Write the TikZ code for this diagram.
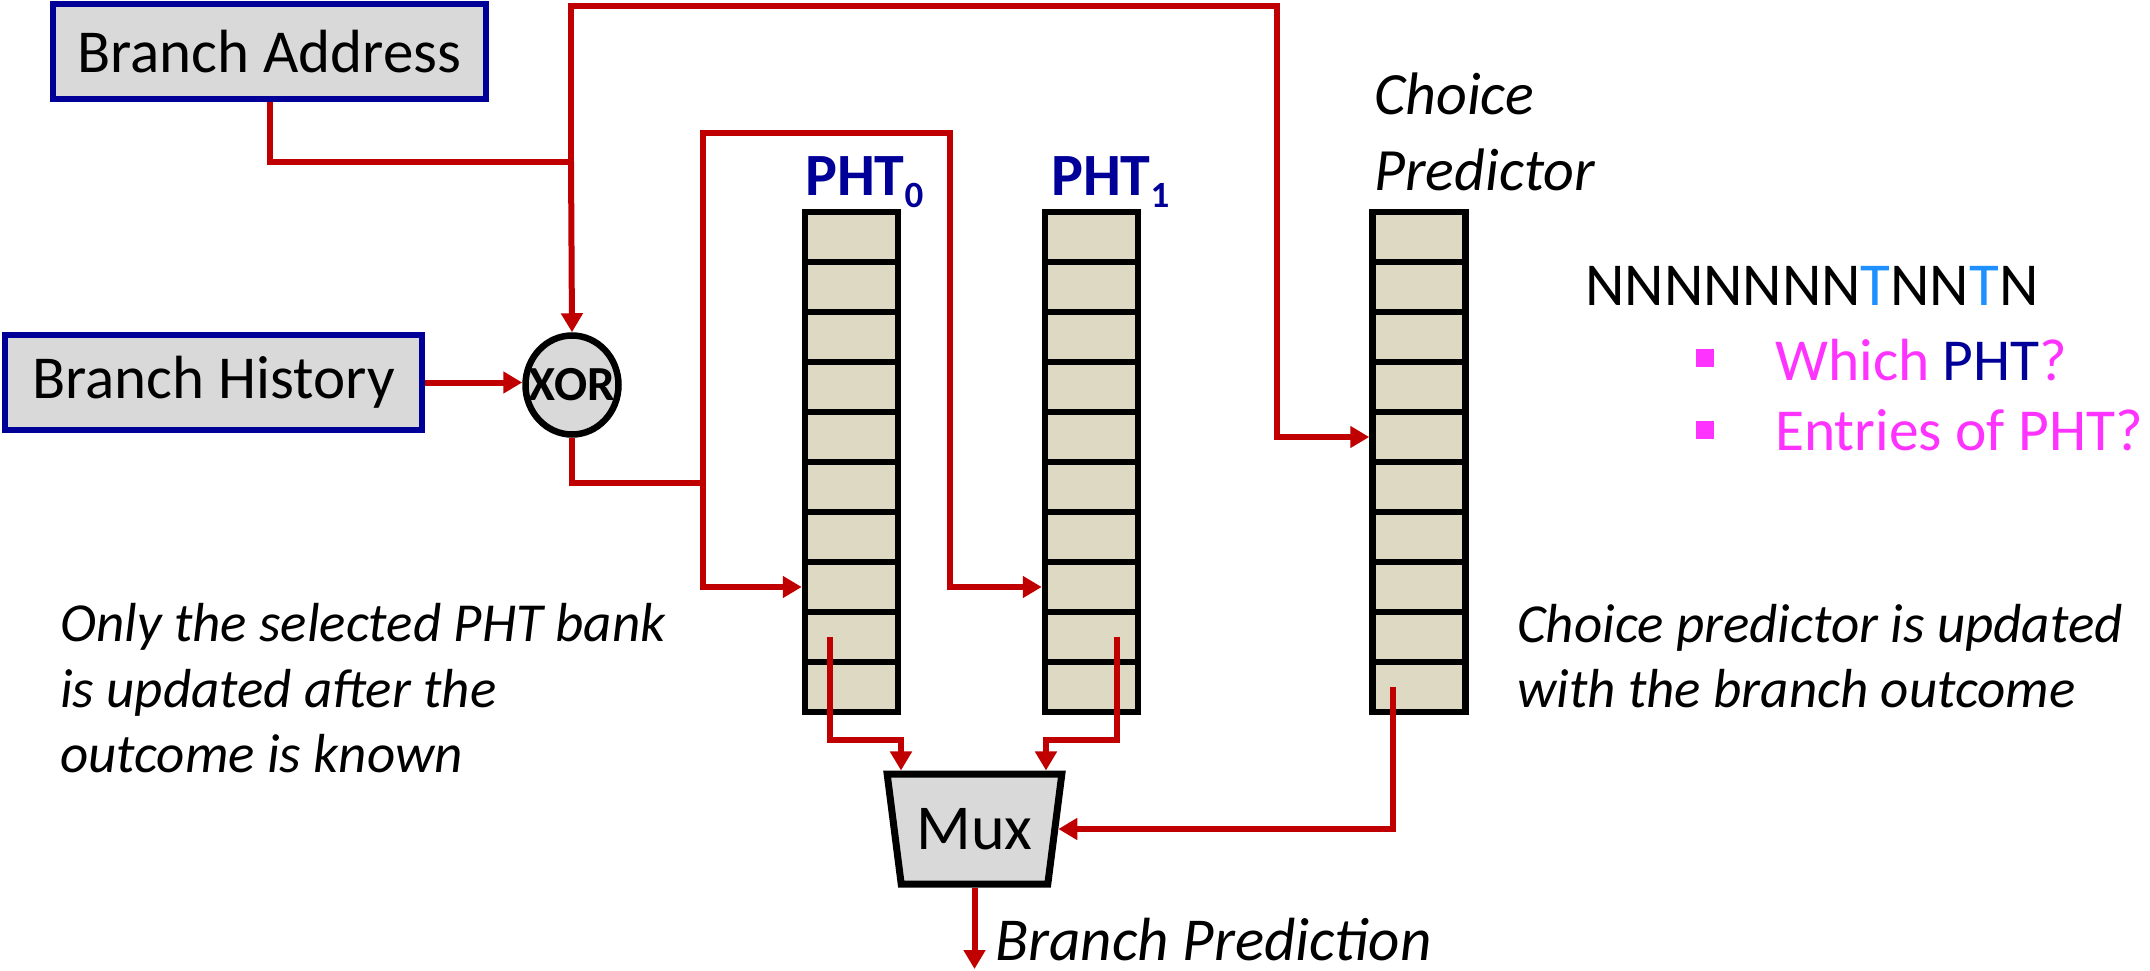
\documentclass[tikz,border=0pt]{standalone}
\usepackage{fontspec}
\setmainfont{Carlito}
\usetikzlibrary{arrows.meta,shapes.geometric,calc}

\definecolor{wirered}{RGB}{192,0,0}
\definecolor{navy}{RGB}{0,0,153}
\definecolor{boxgray}{RGB}{217,217,217}
\definecolor{celltan}{RGB}{221,217,195}
\definecolor{hilite}{RGB}{255,51,255}
\definecolor{takenblue}{RGB}{30,144,255}

\newcommand\fsz[1]{\fontsize{#1}{#1}\selectfont}

\begin{document}
\begin{tikzpicture}[x=1pt,y=-1pt,
  wire/.style={draw=wirered,line width=6pt},
  arr/.style={wire,-{Triangle[length=19pt,width=21pt]}},
  inbox/.style={rectangle,draw=navy,line width=6pt,fill=boxgray,inner sep=0pt,font=\fsz{61}},
  cell/.style={rectangle,draw=black,line width=6.5pt,fill=celltan,minimum width=93pt,minimum height=50pt,inner sep=0pt},
  txt/.style={inner sep=0pt,anchor=base west,font=\fsz{61}},
  note/.style={txt,font=\fsz{55}\itshape},
]
\useasboundingbox (0,0) rectangle (2150,971);

% inputs
\node[inbox,minimum width=433pt,minimum height=95pt] (ba) at (269.5,51.5) {Branch Address};
\node[inbox,minimum width=417pt,minimum height=95pt] (bh) at (213.5,382.5) {Branch History};
\node[ellipse,draw=black,line width=6.5pt,fill=boxgray,minimum width=93pt,minimum height=99pt,inner sep=0pt,
  label={[font=\fsz{49}\bfseries,inner sep=0pt]center:XOR}] (xor) at (572,385) {};

% the three tables, ten entries each
\foreach \c/\x in {0/851.5,1/1091.5,c/1419}
  \foreach \i in {1,...,10}
    \node[cell] (p\c-\i) at (\x,{212+(\i-0.5)*50}) {};

\node[txt,font=\fsz{60}\bfseries,text=navy] (lab0) at (805,195) {PHT\raisebox{-13pt}{\fsz{37}0}};
\node[txt,font=\fsz{60}\bfseries,text=navy] (lab1) at (1051,195) {PHT\raisebox{-13pt}{\fsz{37}1}};
\node[txt,font=\fsz{60}\itshape] (cpa) at (1374,115) {Choice};
\node[txt,font=\fsz{60}\itshape] (cpb) at (1374,190) {Predictor};

% selector
\node[trapezium,trapezium angle=75,shape border rotate=180,trapezium stretches=true,
  minimum width=175pt,minimum height=110pt,inner sep=0pt,draw=black,line width=7pt,
  fill=boxgray,font=\fsz{64}] (mux) at (974.5,829) {Mux};

% wiring
\coordinate (jA) at (571,162);
\coordinate (tl) at (571,6);
\coordinate (tr) at (1277,6);
\coordinate (jB) at (703,483);
\coordinate (la) at (703,133);
\coordinate (lb) at (950,133);
\coordinate (m0) at (901,740);
\coordinate (m1) at (1046,740);
\coordinate (o0) at ([xshift=-22pt]p0-9.center);
\coordinate (o1) at ([xshift=25pt]p1-9.center);
\coordinate (oc) at ([xshift=-26pt]pc-10.center);
\coordinate (bp) at (972,969);

\draw[wire] (ba.south) |- (jA);
\draw[arr] (jA) -- (xor.north);
\draw[arr] (jA) -- (tl) -- (tr) |- (pc-5.west);
\draw[arr] (bh.east) -- (bh.east -| xor.west);
\draw[wire] (xor.south) |- (jB);
\draw[arr] (jB) |- (p0-8.west);
\draw[arr] (jB) -- (la) -- (lb) |- (p1-8.west);
\draw[arr] (o0) |- (m0) -- (m0 |- mux.north);
\draw[arr] (o1) |- (m1) -- (m1 |- mux.north);
\draw[arr] (oc) |- (mux.east);
\draw[arr] (mux.south) -- (mux.south |- bp);

\node[txt,font=\fsz{61}\itshape] (bpred) at (995,960) {Branch Prediction};

% notes
\node[note] (n1) at (60,641) {Only the selected PHT bank};
\node[note] (n2) at (60,707) {is updated after the};
\node[note] (n3) at (60,772) {outcome is known};
\node[note] (r1) at (1517,642) {Choice predictor is updated};
\node[note] (r2) at (1517,707) {with the branch outcome};

% outcome sequence and questions
\node[txt] (seq) at (1585,305) {NNNNNNN\textcolor{takenblue}{T}NN\textcolor{takenblue}{T}N};
\node[fill=hilite,minimum size=18pt,inner sep=0pt] (b1) at (1704.5,358) {};
\node[fill=hilite,minimum size=18pt,inner sep=0pt] (b2) at (1704.5,430) {};
\node[txt,text=hilite,font=\fsz{59.5}] (q1) at (1775,380) {Which \textcolor{navy}{PHT}?};
\node[txt,text=hilite,font=\fsz{59.5}] (q2) at (1775,450) {Entries of PHT?};
\end{tikzpicture}
\end{document}
